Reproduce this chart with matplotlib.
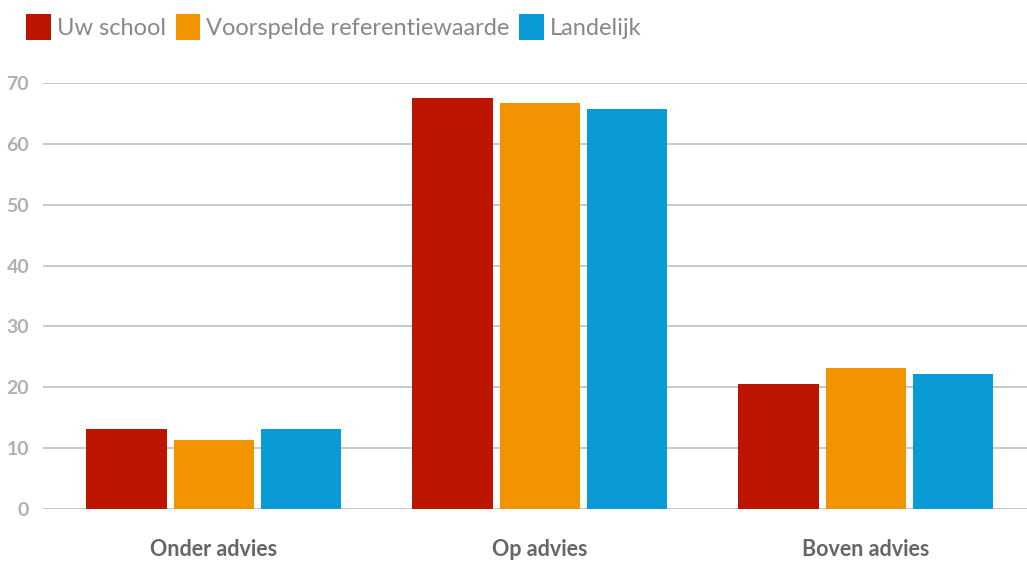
import matplotlib.pyplot as plt
import numpy as np

# Gegevens
categorieen = ['Onder advies', 'Op advies', 'Boven advies']
reeksen = ['Uw school', 'Voorspelde referentiewaarde', 'Landelijk']
uw_school = [13.1, 67.5, 20.6]
voorspeld = [11.3, 66.8, 23.1]
landelijk = [13.1, 65.8, 22.1]
kleuren = ['#bb1500', '#f29400', '#0a9bd6']

plt.rcParams['font.family'] = ['Lato', 'DejaVu Sans']

fig = plt.figure(figsize=(10.27, 5.65), dpi=100)
ax = fig.add_axes([0.042, 0.0996, 0.958, 0.753])

x = np.arange(len(categorieen))
breedte = 0.248
stap = 0.267
for i, (waarden, naam) in enumerate(zip([uw_school, voorspeld, landelijk], reeksen)):
    ax.bar(x + (i - 1) * stap, waarden, breedte, color=kleuren[i], label=naam, zorder=3)

ax.set_xlim(-0.524, 2.494)
ax.set_ylim(0, 70)
ax.set_yticks(range(0, 71, 10))
ax.yaxis.grid(True, color='#c4c4c4', linewidth=1.3, zorder=0)
ax.set_xticks(x)
ax.set_xticklabels(categorieen, fontsize=15.5, color='#666666', fontweight='bold')
ax.tick_params(axis='x', length=0, pad=22)
ax.tick_params(axis='y', length=0, pad=10, labelsize=14, labelcolor='#b0b0b0')
for t in ax.get_yticklabels():
    t.set_fontweight('bold')
for s in ax.spines.values():
    s.set_visible(False)

leg = fig.legend(loc='upper left', bbox_to_anchor=(0.005, 1.012), ncol=3, frameon=False,
                 fontsize=17, handlelength=1.05, handleheight=1.3, handletextpad=0.25,
                 columnspacing=0.4)
for t in leg.get_texts():
    t.set_color('#888888')

fig.savefig('out.png', dpi=100)
